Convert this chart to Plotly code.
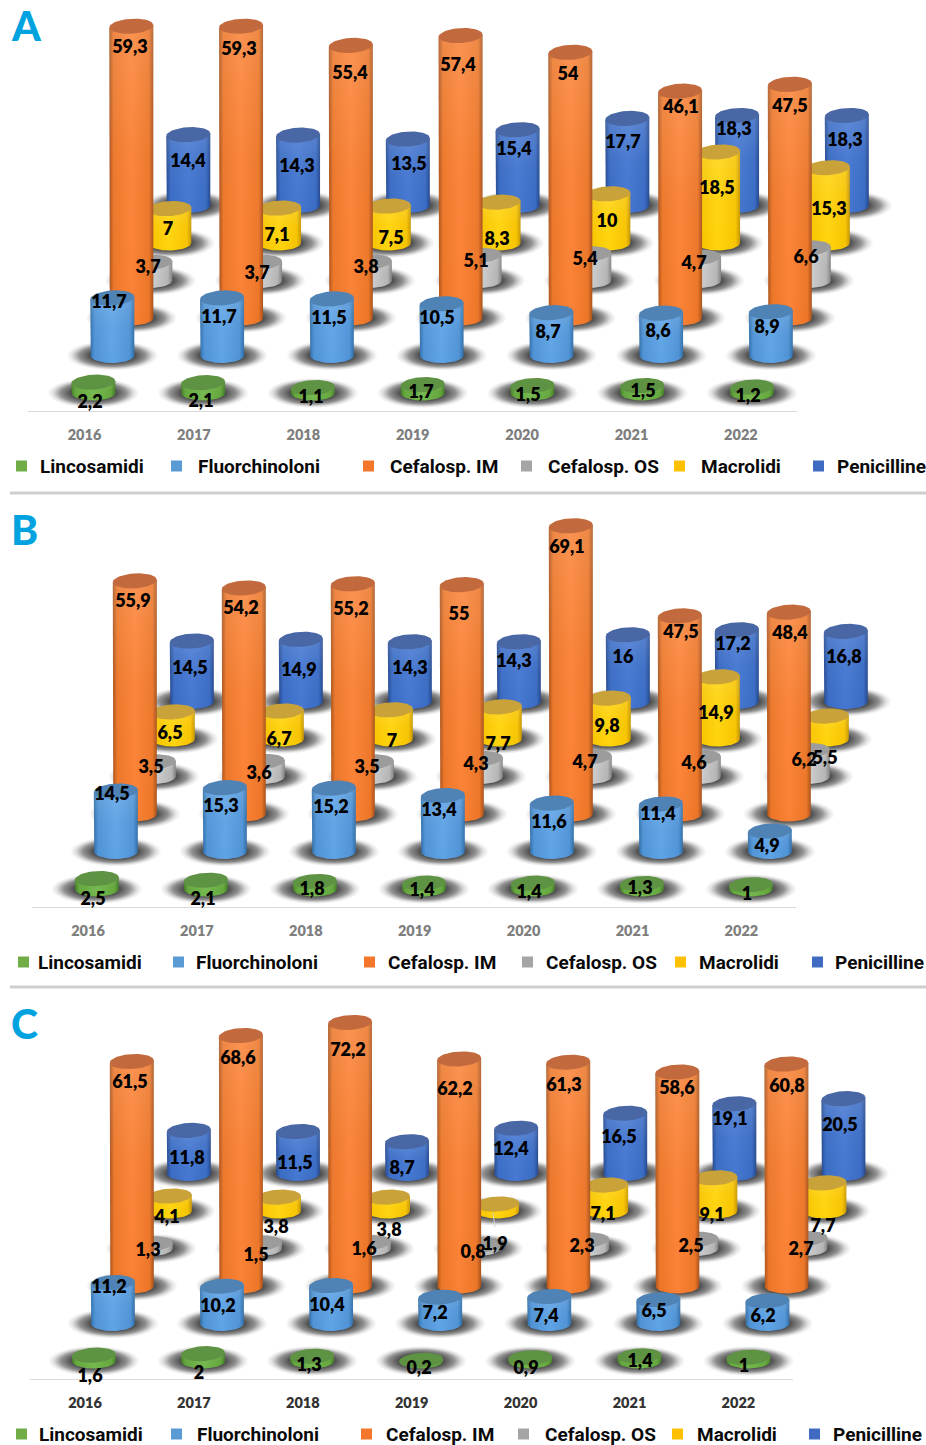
import numpy as np
import plotly.graph_objects as go

W, H = 926, 1445
years = [2016, 2017, 2018, 2019, 2020, 2021, 2022]
classes = ["Lincosamidi", "Fluorchinoloni", "Cefalosp. IM", "Cefalosp. OS", "Macrolidi", "Penicilline"]

lincosamidi_a = [2.2, 2.1, 1.1, 1.7, 1.5, 1.5, 1.2]
fluorchinoloni_a = [11.7, 11.7, 11.5, 10.5, 8.7, 8.6, 8.9]
cefalosp_im_a = [59.3, 59.3, 55.4, 57.4, 54, 46.1, 47.5]
cefalosp_os_a = [3.7, 3.7, 3.8, 5.1, 5.4, 4.7, 6.6]
macrolidi_a = [7, 7.1, 7.5, 8.3, 10, 18.5, 15.3]
penicilline_a = [14.4, 14.3, 13.5, 15.4, 17.7, 18.3, 18.3]

lincosamidi_b = [2.5, 2.1, 1.8, 1.4, 1.4, 1.3, 1]
fluorchinoloni_b = [14.5, 15.3, 15.2, 13.4, 11.6, 11.4, 4.9]
cefalosp_im_b = [55.9, 54.2, 55.2, 55, 69.1, 47.5, 48.4]
cefalosp_os_b = [3.5, 3.6, 3.5, 4.3, 4.7, 4.6, 6.2]
macrolidi_b = [6.5, 6.7, 7, 7.7, 9.8, 14.9, 5.5]
penicilline_b = [14.5, 14.9, 14.3, 14.3, 16, 17.2, 16.8]

lincosamidi_c = [1.6, 2, 1.3, 0.2, 0.9, 1.4, 1]
fluorchinoloni_c = [11.2, 10.2, 10.4, 7.2, 7.4, 6.5, 6.2]
cefalosp_im_c = [61.5, 68.6, 72.2, 62.2, 61.3, 58.6, 60.8]
cefalosp_os_c = [1.3, 1.5, 1.6, 0.8, 2.3, 2.5, 2.7]
macrolidi_c = [4.1, 3.8, 3.8, 1.9, 7.1, 9.1, 7.7]
penicilline_c = [11.8, 11.5, 8.7, 12.4, 16.5, 19.1, 20.5]

series_a = [lincosamidi_a, fluorchinoloni_a, cefalosp_im_a, cefalosp_os_a, macrolidi_a, penicilline_a]
series_b = [lincosamidi_b, fluorchinoloni_b, cefalosp_im_b, cefalosp_os_b, macrolidi_b, penicilline_b]
series_c = [lincosamidi_c, fluorchinoloni_c, cefalosp_im_c, cefalosp_os_c, macrolidi_c, penicilline_c]

# Hand-placed label anchors in page pixels, one row per drug class.
label_xy_a = [
    [(90, 401), (201, 400), (311, 396), (421, 391), (528, 394), (643, 390), (748, 395)],
    [(109, 301), (219, 316), (329, 317), (437, 317), (548, 331), (658, 330), (767, 326)],
    [(130, 46), (239, 48), (350, 72), (458, 64), (568, 73), (681, 106), (790, 105)],
    [(148, 266), (257, 272), (366, 266), (476, 260), (585, 258), (694, 262), (806, 256)],
    [(168, 228), (277, 234), (391, 237), (497, 238), (607, 220), (717, 187), (829, 208)],
    [(188, 160), (297, 165), (409, 163), (514, 148), (623, 141), (734, 128), (845, 139)],
]
label_xy_b = [
    [(93, 898), (203, 898), (312, 888), (422, 889), (529, 891), (640, 887), (747, 893)],
    [(112, 793), (221, 805), (331, 806), (439, 809), (549, 821), (658, 813), (767, 845)],
    [(133, 600), (241, 607), (351, 608), (459, 613), (567, 546), (681, 631), (790, 632)],
    [(151, 766), (259, 772), (367, 766), (476, 763), (585, 761), (694, 762), (804, 759)],
    [(170, 732), (279, 738), (392, 740), (498, 743), (607, 725), (716, 712), (825, 757)],
    [(190, 667), (299, 669), (410, 667), (514, 660), (623, 656), (733, 643), (844, 656)],
]
label_xy_c = [
    [(90, 1375), (199, 1372), (309, 1364), (419, 1367), (526, 1367), (640, 1360), (744, 1365)],
    [(109, 1286), (218, 1305), (327, 1304), (435, 1312), (546, 1315), (654, 1310), (763, 1315)],
    [(130, 1081), (238, 1057), (348, 1049), (455, 1088), (564, 1084), (677, 1087), (787, 1085)],
    [(148, 1249), (256, 1254), (364, 1248), (473, 1251), (582, 1245), (691, 1245), (801, 1248)],
    [(167, 1216), (276, 1226), (389, 1229), (495, 1243), (603, 1213), (712, 1214), (823, 1225)],
    [(187, 1157), (295, 1162), (402, 1167), (511, 1148), (619, 1136), (730, 1118), (840, 1124)],
]

# Colours per class: cylinder edge, mid, highlight, lid, legend key.
palette = [
    ("#3f7a22", "#62a63a", "#74b84e", "#5f9344", "#70ad47"),
    ("#2f6ea8", "#4f93d6", "#5fa4e6", "#4f83b5", "#5b9bd5"),
    ("#a8521c", "#ec7628", "#fb8236", "#c26a3e", "#f4762a"),
    ("#808080", "#b4b4b4", "#d0d0d0", "#9c9c9c", "#a5a5a5"),
    ("#c79600", "#f7c400", "#ffd40d", "#c9a23a", "#ffc000"),
    ("#24488f", "#3a6cc4", "#4678d2", "#4a67a5", "#3f6cc2"),
]

panels = [
    dict(letter="A", series=series_a, labels=label_xy_a, top=0, axis=412, zero=393.0, tick0=84.5, step=109.75,
         tick_step=109.4, scale=4.92, line=(28, 797), letter_y=25, tick_col="#7f7f7f", legend_y=466,
         keys=[16, 171, 363, 521, 674, 813], texts=[38, 196, 388, 546, 699, 835]),
    dict(letter="B", series=series_b, labels=label_xy_b, top=494, axis=908, zero=889.0, tick0=88.0, step=109.0,
         tick_step=108.9, scale=4.17, line=(32, 796), letter_y=529, tick_col="#7f7f7f", legend_y=962,
         keys=[18, 173, 364, 522, 675, 812], texts=[36, 194, 386, 544, 697, 833]),
    dict(letter="C", series=series_c, labels=label_xy_c, top=988, axis=1380, zero=1361.0, tick0=85.0, step=109.1,
         tick_step=108.9, scale=3.65, line=(30, 793), letter_y=1023, tick_col="#333333", legend_y=1434,
         keys=[16, 171, 361, 518, 672, 809], texts=[37, 195, 384, 543, 695, 831]),
]

RADIUS = 22.0
LID = 7.5
LID_TILT = 1.2
DEPTH_X = 19.0
DEPTH_Y = 37.5
NEAR_X = 8.8
SHADOW_RX = 46.0
SHADOW_RY = 15.0
LABEL_FONT = "Lato"
LABEL_DROP = 2

theta = np.linspace(0, 2 * np.pi, 61)
lower = np.linspace(np.pi, 2 * np.pi, 31)

fig = go.Figure()
shapes, annotations, axes = [], [], {}


def fmt(v):
    return f"{v:g}".replace(".", ",")


for n, p in enumerate(panels):
    suffix = "" if n == 0 else str(n + 1)
    xname, yname = f"x{suffix}", f"y{suffix}"
    px_x = lambda px, p=p: 2016 + (px - p["tick0"]) / p["step"]
    px_y = lambda py, p=p: (p["zero"] - py) / p["scale"]
    rx = RADIUS / p["step"]
    ry = LID / p["scale"]
    tilt = LID_TILT / p["scale"]

    axes[f"xaxis{suffix}"] = dict(
        domain=[0, 1], range=[px_x(0), px_x(W)], anchor=yname, tickmode="array",
        tickvals=[2016 + i * p["tick_step"] / p["step"] for i in range(len(years))],
        ticktext=[str(y) for y in years], showgrid=False, zeroline=False,
        showline=False, ticks="", ticklabelstandoff=12,
        tickfont=dict(family=LABEL_FONT, size=14.5, weight=800, color=p["tick_col"]),
    )
    axes[f"yaxis{suffix}"] = dict(
        domain=[1 - p["axis"] / H, 1 - p["top"] / H], range=[px_y(p["axis"]), px_y(p["top"])],
        anchor=xname, visible=False, showgrid=False, zeroline=False,
    )
    shapes.append(dict(type="line", xref=xname, yref=yname, layer="below",
                       x0=px_x(p["line"][0]), x1=px_x(p["line"][1]), y0=px_y(p["axis"]), y1=px_y(p["axis"]),
                       line=dict(color="#d9d9d9", width=2)))

    # Back rows are drawn first so nearer cylinders overlap them.
    for k in range(5, -1, -1):
        edge, mid, light, lid, _ = palette[k]
        values = p["series"][k]
        base = k * DEPTH_Y / p["scale"]
        shift = (NEAR_X + k * DEPTH_X) / p["step"]
        for year, v in zip(years, values):
            cx = year + shift
            sx = cx + np.cos(theta) * SHADOW_RX / p["step"]
            sy = base + np.sin(theta) * SHADOW_RY / p["scale"]
            fig.add_trace(go.Scatter(
                x=sx, y=sy, xaxis=xname, yaxis=yname, mode="lines", line=dict(width=0),
                fill="toself", hoverinfo="skip", showlegend=False,
                fillgradient=dict(type="radial", colorscale=[
                    [0, "rgba(62,62,62,0.95)"], [0.5, "rgba(62,62,62,0.9)"], [0.72, "rgba(72,72,72,0.6)"],
                    [0.88, "rgba(90,90,90,0.18)"], [1, "rgba(110,110,110,0)"]]),
            ))
        for year, v in zip(years, values):
            cx = year + shift
            top = base + v
            body_x = np.concatenate([[cx - rx], cx + np.cos(lower) * rx, [cx + rx]])
            body_y = np.concatenate([[top - tilt], base + np.sin(lower) * ry, [top + tilt]])
            fig.add_trace(go.Scatter(
                x=body_x, y=body_y, xaxis=xname, yaxis=yname, mode="lines", line=dict(width=0),
                fill="toself", hoverinfo="skip", showlegend=False,
                fillgradient=dict(type="horizontal", colorscale=[
                    [0, edge], [0.1, mid], [0.5, light], [0.9, mid], [1, edge]]),
            ))
            # Soft sheen fading out towards the foot of the cylinder.
            fig.add_trace(go.Scatter(
                x=body_x, y=body_y, xaxis=xname, yaxis=yname, mode="lines", line=dict(width=0),
                fill="toself", hoverinfo="skip", showlegend=False,
                fillgradient=dict(type="vertical", colorscale=[
                    [0, "rgba(255,255,255,0)"], [0.55, "rgba(255,255,255,0.03)"],
                    [1, "rgba(255,255,255,0.14)"]]),
            ))
            fig.add_trace(go.Scatter(
                x=cx + np.cos(theta) * rx, y=top + np.sin(theta) * ry + np.cos(theta) * tilt,
                xaxis=xname, yaxis=yname, mode="lines", line=dict(width=0), fill="toself", fillcolor=lid,
                hoverinfo="skip", showlegend=False,
            ))

    # Value labels sit above every cylinder.
    for k in range(6):
        anchors = p["labels"][k]
        fig.add_trace(go.Scatter(
            x=[px_x(a[0]) for a in anchors], y=[px_y(a[1] + LABEL_DROP) for a in anchors], xaxis=xname, yaxis=yname,
            mode="text", text=[fmt(v) for v in p["series"][k]], textposition="middle center",
            textfont=dict(family=LABEL_FONT, size=18, weight=800, color="#000000"),
            hoverinfo="skip", showlegend=False, cliponaxis=False,
        ))

    # Row of colour keys and class names under the panel.
    for k, name in enumerate(classes):
        x0 = p["keys"][k]
        shapes.append(dict(type="rect", xref="paper", yref="paper", layer="above",
                           x0=x0 / W, x1=(x0 + 11) / W,
                           y0=1 - (p["legend_y"] + 5.5) / H, y1=1 - (p["legend_y"] - 5.5) / H,
                           fillcolor=palette[k][4], line=dict(width=0)))
        annotations.append(dict(xref="paper", yref="paper", x=p["texts"][k] / W, y=1 - p["legend_y"] / H,
                                xanchor="left", yanchor="middle", showarrow=False, text=name,
                                font=dict(family="Roboto", size=19, weight="bold", color="#0a0a0a")))

    annotations.append(dict(xref="paper", yref="paper", x=8.5 / W, y=1 - p["letter_y"] / H,
                            xanchor="left", yanchor="middle", showarrow=False, text=p["letter"],
                            font=dict(family="Lato", size=41, weight=900, color="#00a3e0")))

# Leader line tying the 1,9 label to its flat cylinder in panel C.
shapes.append(dict(type="line", xref="paper", yref="paper", layer="above", x0=493 / W, x1=495 / W,
                   y0=1 - 1213 / H, y1=1 - 1227 / H, line=dict(color="#d5d5d5", width=1)))

# Rules separating the three panels.
for y in (493, 987):
    shapes.append(dict(type="line", xref="paper", yref="paper", x0=10 / W, x1=1,
                       y0=1 - y / H, y1=1 - y / H, line=dict(color="#cfcfcf", width=3)))

fig.update_layout(width=W, height=H, margin=dict(l=0, r=0, t=0, b=0), paper_bgcolor="white",
                  plot_bgcolor="white", showlegend=False, shapes=shapes, annotations=annotations, **axes)
fig.write_html("out.html")
